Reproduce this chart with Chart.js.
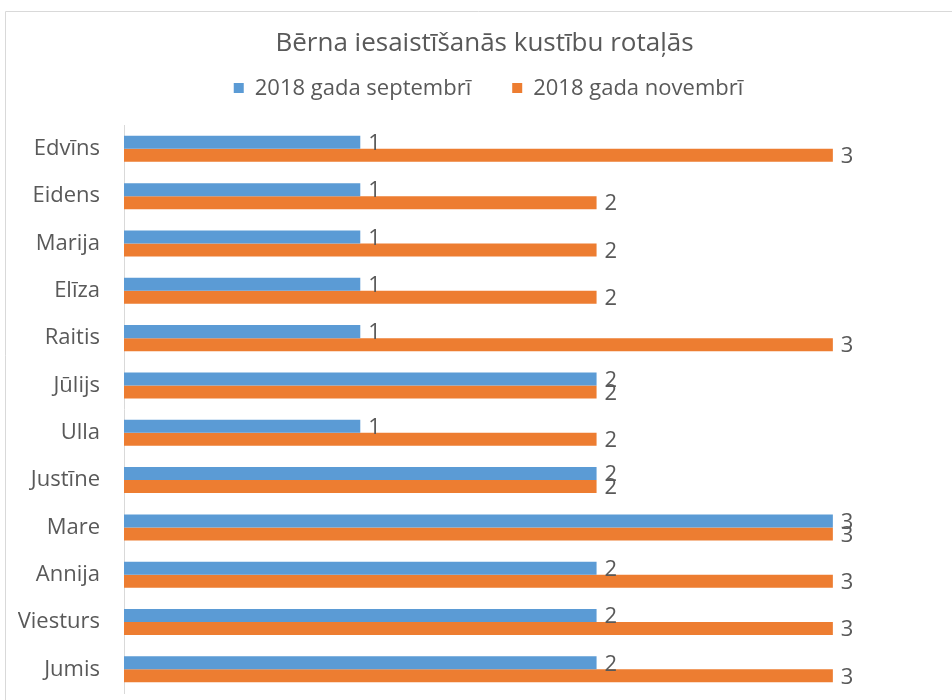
<!DOCTYPE html>
<html lang="lv">
<head>
<meta charset="utf-8">
<title>Bērna iesaistīšanās kustību rotaļās</title>
<script src="https://cdn.jsdelivr.net/npm/chart.js@4.4.1/dist/chart.umd.min.js"></script>
<style>
  html, body { margin: 0; padding: 0; background: #fff; }
  canvas { display: block; }
</style>
</head>
<body>
<canvas id="chart" width="952" height="700"></canvas>
<script>
// data
const children = ['Edvīns', 'Eidens', 'Marija', 'Elīza', 'Raitis', 'Jūlijs',
                  'Ulla', 'Justīne', 'Mare', 'Annija', 'Viesturs', 'Jumis'];
const septembris = [1, 1, 1, 1, 1, 2, 1, 2, 3, 2, 2, 2];
const novembris  = [3, 2, 2, 2, 3, 2, 2, 2, 3, 3, 3, 3];
const seriesNames = ['2018 gada septembrī', '2018 gada novembrī'];
const chartTitle = 'Bērna iesaistīšanās kustību rotaļās';

const FONT = "'Open Sans', sans-serif";
const TEXT = '#595959';
const BLUE = '#5B9BD5';
const ORANGE = '#ED7D31';

// light grey frame, only top and left edges are visible in the crop
const framePlugin = {
    id: 'frame',
    beforeDraw(chart) {
        const ctx = chart.ctx;
        ctx.save();
        ctx.strokeStyle = '#D9D9D9';
        ctx.lineWidth = 1;
        ctx.beginPath();
        ctx.moveTo(5.5, chart.height);
        ctx.lineTo(5.5, 11.5);
        ctx.lineTo(chart.width, 11.5);
        ctx.stroke();
        ctx.restore();
    }
};

// legend drawn by hand so the gap between items matches
const legendPlugin = {
    id: 'simpleLegend',
    afterDraw(chart) {
        const ctx = chart.ctx;
        const size = 22, box = 10, gap = 11, between = 41;
        ctx.save();
        ctx.font = size + 'px ' + FONT;
        ctx.textBaseline = 'middle';
        ctx.textAlign = 'left';
        const items = chart.data.datasets.map(ds => ({
            text: ds.label,
            color: ds.backgroundColor,
            w: box + gap + ctx.measureText(ds.label).width
        }));
        const total = items.reduce((s, it) => s + it.w, 0) + between * (items.length - 1);
        const cx = (chart.titleBlock.left + chart.titleBlock.right) / 2 + 4;
        const y = 89;
        let x = cx - total / 2;
        items.forEach(it => {
            ctx.fillStyle = it.color;
            ctx.fillRect(x, y - box / 2 - 1, box, box);
            ctx.fillStyle = TEXT;
            ctx.fillText(it.text, x + box + gap, y);
            x += it.w + between;
        });
        ctx.restore();
    }
};

// value labels at the end of every bar
const valueLabels = {
    id: 'valueLabels',
    afterDatasetsDraw(chart) {
        const ctx = chart.ctx;
        ctx.save();
        ctx.font = '22px ' + FONT;
        ctx.fillStyle = TEXT;
        ctx.textAlign = 'left';
        ctx.textBaseline = 'middle';
        chart.data.datasets.forEach((ds, i) => {
            chart.getDatasetMeta(i).data.forEach((bar, j) => {
                ctx.fillText(String(ds.data[j]), bar.x + 8, bar.y + 1.5);
            });
        });
        ctx.restore();
    }
};

new Chart(document.getElementById('chart'), {
    type: 'bar',
    data: {
        labels: children,
        datasets: [
            { label: seriesNames[0], data: septembris, backgroundColor: BLUE },
            { label: seriesNames[1], data: novembris, backgroundColor: ORANGE }
        ]
    },
    options: {
        indexAxis: 'y',
        responsive: false,
        animation: false,
        categoryPercentage: 0.55,
        barPercentage: 1.0,
        layout: { padding: { left: 18, right: 1, top: 0, bottom: 7 } },
        scales: {
            x: { type: 'linear', min: 0, max: 3.5, display: false },
            y: {
                grid: { display: false, drawTicks: false },
                border: { display: true, color: '#D9D9D9', width: 1 },
                ticks: { color: TEXT, padding: 24, autoSkip: false,
                         font: { family: FONT, size: 22 } },
                afterFit(scale) {
                    scale.width = 106;
                    scale.paddingTop = 0;
                    scale.paddingBottom = 0;
                }
            }
        },
        plugins: {
            legend: { display: false },
            title: {
                display: true,
                text: chartTitle,
                color: TEXT,
                font: { family: FONT, size: 26, weight: 'normal', lineHeight: 1.2 },
                padding: { top: 28, bottom: 66 }
            }
        }
    },
    plugins: [framePlugin, legendPlugin, valueLabels]
});
</script>
</body>
</html>
